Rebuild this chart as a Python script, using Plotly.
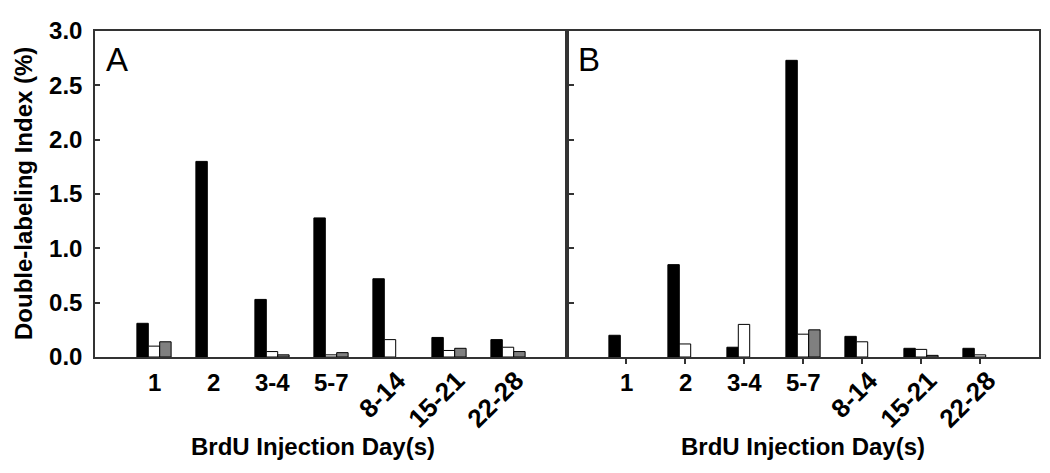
import plotly.graph_objects as go

# injection day groups (x categories)
days = ["1", "2", "3-4", "5-7", "8-14", "15-21", "22-28"]
rotated_days = ["8-14", "15-21", "22-28"]

# panel A values (%), None = no bar drawn
a_black = [0.31, 1.80, 0.53, 1.28, 0.72, 0.18, 0.16]
a_white = [0.10, None, 0.05, 0.02, 0.16, 0.06, 0.09]
a_gray = [0.14, None, 0.02, 0.04, None, 0.08, 0.05]

# panel B values (%)
b_black = [0.20, 0.85, 0.09, 2.73, 0.19, 0.08, 0.08]
b_white = [None, 0.12, 0.30, 0.21, 0.14, 0.07, 0.02]
b_gray = [None, None, None, 0.25, None, 0.015, None]

y_ticks = [0.0, 0.5, 1.0, 1.5, 2.0, 2.5, 3.0]

FONT = "Liberation Sans, Arial, sans-serif"
LINE = "#333333"
pos = list(range(1, len(days) + 1))

fig = go.Figure()

series = [
    ("black", "#000000"),
    ("white", "#ffffff"),
    ("gray", "#808080"),
]
panels = [
    ("x", "y", [a_black, a_white, a_gray]),
    ("x2", "y2", [b_black, b_white, b_gray]),
]
for xa, ya, vals in panels:
    for (name, col), v in zip(series, vals):
        fig.add_trace(go.Bar(
            x=pos, y=v, xaxis=xa, yaxis=ya,
            name=name, showlegend=False,
            marker=dict(color=col, line=dict(color="#000000", width=1)),
        ))

axis_common = dict(showline=True, linecolor=LINE, linewidth=1.5, mirror=True,
                   showgrid=False, zeroline=False)

# page body has an 8px margin, so the figure is a bit smaller than the window
fig.update_layout(
    width=1042, height=465,
    margin=dict(l=87, r=9, t=19, b=116),
    paper_bgcolor="white", plot_bgcolor="white",
    barmode="group", bargap=0.42, bargroupgap=0,
    font=dict(family=FONT, color="#000000"),
    xaxis=dict(domain=[0, 0.5], range=[0, 8], ticks="", showticklabels=False,
               **axis_common),
    xaxis2=dict(domain=[0.5, 1], range=[0, 8], tickvals=pos, ticks="outside",
                ticklen=5, tickwidth=1.5, tickcolor=LINE, showticklabels=False,
                anchor="y2", **axis_common),
    yaxis=dict(range=[0, 3], tickvals=y_ticks, ticktext=[f"{t:.1f}" for t in y_ticks],
               ticks="inside", ticklen=5, tickwidth=1.5, tickcolor=LINE,
               tickfont=dict(size=24, family=FONT, weight="bold"),
               ticklabelstandoff=6, **axis_common),
    yaxis2=dict(range=[0, 3], tickvals=y_ticks, ticks="inside", ticklen=7,
                tickwidth=1.5, tickcolor=LINE, showticklabels=False,
                anchor="x2", **axis_common),
)

annotations = []
for xa in ["x", "x2"]:
    for p, lab in zip(pos, days):
        if lab in rotated_days:
            annotations.append(dict(
                x=p, xref=xa, y=0, yref="paper", text=lab, showarrow=False,
                textangle=-45, xanchor="right", yanchor="top",
                xshift=25, yshift=-5,
                font=dict(size=26, family=FONT, weight="bold"),
            ))
        else:
            annotations.append(dict(
                x=p, xref=xa, y=0, yref="paper", text=lab, showarrow=False,
                xanchor="center", yanchor="top", yshift=-10,
                font=dict(size=24, family=FONT, weight="bold"),
            ))
    annotations.append(dict(
        x=0.5, xref=xa + " domain", y=0, yref="paper", yshift=-74,
        xshift=-18 if xa == "x" else 0,
        text="BrdU Injection Day(s)", showarrow=False,
        xanchor="center", yanchor="top",
        font=dict(size=24, family=FONT, weight="bold"),
    ))

annotations.append(dict(x=0.02, xref="x domain", y=0.975, yref="paper",
                        text="A", showarrow=False, xanchor="left", yanchor="top",
                        font=dict(size=33, family=FONT)))
annotations.append(dict(x=0.02, xref="x2 domain", y=0.975, yref="paper",
                        text="B", showarrow=False, xanchor="left", yanchor="top",
                        font=dict(size=33, family=FONT)))
annotations.append(dict(x=0, xref="paper", xshift=-72, y=0.5, yref="paper",
                        text="Double-labeling Index (%)", showarrow=False,
                        textangle=-90, xanchor="center", yanchor="middle",
                        font=dict(size=24, family=FONT, weight="bold")))

fig.update_layout(annotations=annotations)

fig.write_html("out.html")
